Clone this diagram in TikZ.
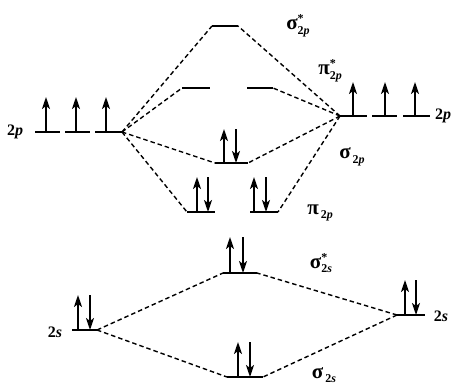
\documentclass[tikz,border=0pt]{standalone}
\usepackage{fontspec}
\setmainfont{Liberation Serif}
\usetikzlibrary{arrows.meta}
\newcommand\molab[3]{{\fontsize{21}{21}\selectfont #1}\rlap{\raisebox{7pt}{\fontsize{12}{12}\selectfont #2}}\raisebox{-4.5pt}{\fontsize{12}{12}\selectfont #3}}
\begin{document}
\begin{tikzpicture}[x=1pt,y=-1pt,
  level/.style={line width=1.8pt},
  conn/.style={line width=1.4pt,dash pattern=on 4.5pt off 3pt},
  upe/.style={line width=1.8pt,-{Stealth[length=12pt,width=8pt,inset=3pt]}},
  lbl/.style={font=\fontsize{16}{18}\selectfont\bfseries,inner sep=0pt}]
\useasboundingbox (0,0) rectangle (455,389);
% ---- level endpoints
\coordinate (L2pa) at (35,132); \coordinate (L2pb) at (60,132);
\coordinate (L2pc) at (65,132); \coordinate (L2pd) at (90,132);
\coordinate (L2pe) at (95,132); \coordinate (L2pf) at (122,132);
\coordinate (R2pa) at (340,116); \coordinate (R2pb) at (367,116);
\coordinate (R2pc) at (372,116); \coordinate (R2pd) at (397,116);
\coordinate (R2pe) at (403,116); \coordinate (R2pf) at (430,116);
\coordinate (S2pSa) at (212,26); \coordinate (S2pSb) at (238,26);
\coordinate (P2pSa) at (182,88); \coordinate (P2pSm) at (210,88);
\coordinate (P2pSn) at (247,88); \coordinate (P2pSb) at (273,88);
\coordinate (S2pa) at (215,163); \coordinate (S2pb) at (248,163);
\coordinate (P2pa) at (187,212); \coordinate (P2pm) at (215,212);
\coordinate (P2pn) at (250,212); \coordinate (P2pb) at (278,212);
\coordinate (S2sSa) at (223,273); \coordinate (S2sSb) at (257,273);
\coordinate (L2sa) at (72,330); \coordinate (L2sb) at (97,330);
\coordinate (R2sa) at (397,315); \coordinate (R2sb) at (425,315);
\coordinate (S2sa) at (227,377); \coordinate (S2sb) at (263,377);
% ---- levels
\foreach \a/\b in {L2pa/L2pb,L2pc/L2pd,L2pe/L2pf,R2pa/R2pb,R2pc/R2pd,R2pe/R2pf,
  S2pSa/S2pSb,P2pSa/P2pSm,P2pSn/P2pSb,S2pa/S2pb,P2pa/P2pm,P2pn/P2pb,
  S2sSa/S2sSb,L2sa/L2sb,R2sa/R2sb,S2sa/S2sb}
  \draw[level] (\a) -- (\b);
% ---- connectors
\foreach \t in {S2pSa,P2pSa,S2pa,P2pa} \draw[conn] (L2pf) -- (\t);
\foreach \t in {S2pSb,P2pSb,S2pb,P2pb} \draw[conn] (R2pa) -- (\t);
\foreach \t in {S2sSa,S2sa} \draw[conn] (L2sb) -- (\t);
\foreach \t in {S2sSb,S2sb} \draw[conn] (R2sa) -- (\t);
% ---- electrons (up arrows: x, base y, top y)
\foreach \x/\yb/\yt in {46/132/97,76/132/97,106/132/97,353/116/82,385/116/82,415/116/82,
  224/163/129,197/212/177,254/212/177,230/273/237,78/330/295,405/315/280,238/377/342}
  \draw[upe] (\x,\yb) -- (\x,\yt);
% ---- electrons (down arrows)
\foreach \x/\yb/\yt in {236/163/129,208/212/177,266/212/177,243/273/237,90/330/295,416/315/280,250/377/342}
  \draw[upe] (\x,\yt) -- (\x,\yb);
% ---- labels
\node[lbl] (tL2p) at (15,132) {2\textit{p}};
\node[lbl] (tR2p) at (443,116) {2\textit{p}};
\node[lbl] (tS2pS) at (298,26) {\molab{σ}{*}{2\textit{p}}};
\node[lbl] (tP2pS) at (330,71) {\molab{π}{*}{2\textit{p}}};
\node[lbl] (tS2p) at (352,157) {\molab{σ}{}{\,2\textit{p}}};
\node[lbl] (tP2p) at (320,213) {\molab{π}{}{\,2\textit{p}}};
\node[lbl] (tS2sS) at (321,263) {\molab{σ}{*}{2\textit{s}}};
\node[lbl] (tL2s) at (55,332) {2\textit{s}};
\node[lbl] (tR2s) at (441,316) {2\textit{s}};
\node[lbl] (tS2s) at (324,375) {\molab{σ}{}{\,2\textit{s}}};
\end{tikzpicture}
\end{document}
